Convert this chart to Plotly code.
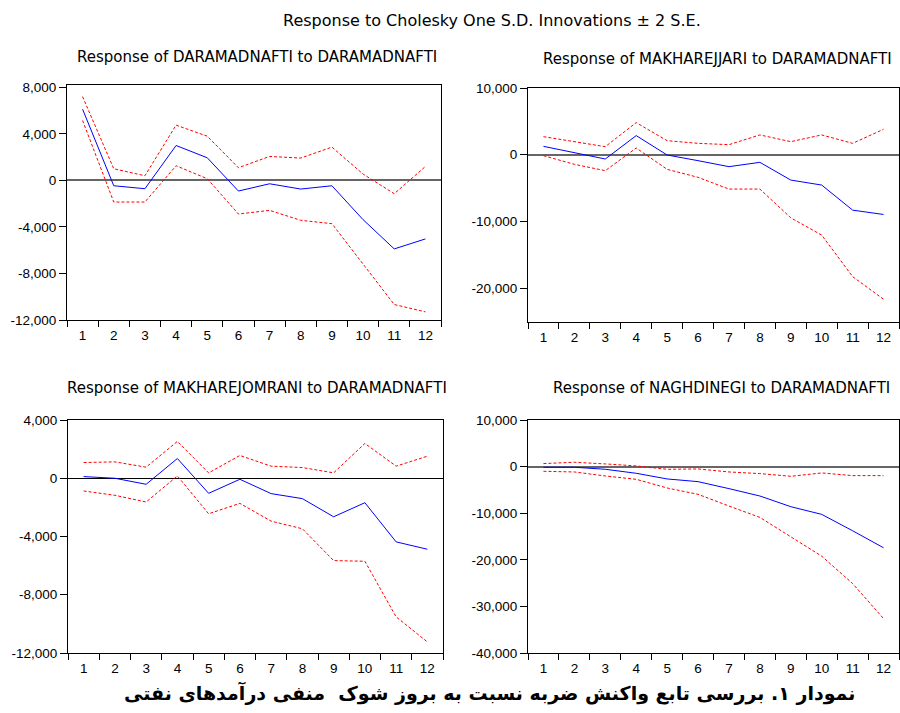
import plotly.graph_objects as go

periods = list(range(1, 13))

# Panel 1: DARAMADNAFTI -> DARAMADNAFTI
p1_resp = [6120, -460, -715, 3000, 1945, -915, -290, -745, -460, -3375, -5890, -5030]
p1_upper = [7200, 1000, 400, 4750, 3800, 1090, 2060, 1920, 2860, 545, -1145, 1200]
p1_lower = [5150, -1860, -1860, 1260, 145, -2890, -2575, -3430, -3720, -7240, -10670, -11300]

# Panel 2: MAKHAREJJARI -> DARAMADNAFTI
p2_resp = [1250, 300, -650, 2860, -50, -900, -1800, -1150, -3810, -4560, -8320, -8970]
p2_upper = [2700, 1950, 1200, 4810, 2100, 1700, 1500, 2960, 1950, 2960, 1700, 3810]
p2_lower = [-150, -1450, -2400, 1000, -2200, -3400, -5160, -5160, -9470, -12070, -18290, -21690]

# Panel 3: MAKHAREJOMRANI -> DARAMADNAFTI
p3_resp = [115, 0, -415, 1355, -1035, -70, -1055, -1400, -2645, -1680, -4370, -4875]
p3_upper = [1080, 1125, 760, 2530, 370, 1565, 830, 735, 370, 2390, 830, 1515]
p3_lower = [-875, -1170, -1630, 160, -2440, -1725, -2945, -3470, -5655, -5700, -9520, -11240]

# Panel 4: NAGHDINEGI -> DARAMADNAFTI
p4_resp = [-145, -145, -575, -1435, -2650, -3230, -4730, -6310, -8600, -10250, -13770, -17420]
p4_upper = [645, 930, 575, 145, -575, -500, -1150, -1505, -2080, -1360, -1935, -1935]
p4_lower = [-1005, -1150, -2010, -2725, -4590, -5950, -8460, -10900, -15060, -19220, -25100, -32620]

p1_ticks = [8000, 4000, 0, -4000, -8000, -12000]
p2_ticks = [10000, 0, -10000, -20000]
p3_ticks = [4000, 0, -4000, -8000, -12000]
p4_ticks = [10000, 0, -10000, -20000, -30000, -40000]

main_title = "Response to Cholesky One S.D. Innovations \u00b1 2 S.E."
panel_titles = [
    "Response of DARAMADNAFTI to DARAMADNAFTI",
    "Response of MAKHAREJJARI to DARAMADNAFTI",
    "Response of MAKHAREJOMRANI to DARAMADNAFTI",
    "Response of NAGHDINEGI to DARAMADNAFTI",
]
caption = "نمودار ۱. بررسی تابع واکنش ضربه نسبت به بروز شوک  منفی درآمدهای نفتی"

W, H = 900, 713

def px_x(x):
    return x / W

def px_y(y):
    return 1 - y / H

panels = [
    dict(resp=p1_resp, up=p1_upper, lo=p1_lower, ticks=p1_ticks, rng=[-12000, 8200],
         box=(67, 441, 85, 320), zc="#666666", zw=2),
    dict(resp=p2_resp, up=p2_upper, lo=p2_lower, ticks=p2_ticks, rng=[-25100, 10000],
         box=(528, 899, 88, 322), zc="#666666", zw=2),
    dict(resp=p3_resp, up=p3_upper, lo=p3_lower, ticks=p3_ticks, rng=[-12000, 4000],
         box=(68, 443, 420, 653), zc="#000000", zw=1.2),
    dict(resp=p4_resp, up=p4_upper, lo=p4_lower, ticks=p4_ticks, rng=[-40000, 10000],
         box=(528, 899, 420, 653), zc="#666666", zw=2),
]

fig = go.Figure()
tick_font = dict(family="Liberation Sans, Arial, sans-serif", size=13.5, color="#000000")
title_family = "DejaVu Sans, sans-serif"

for i, p in enumerate(panels):
    n = i + 1
    xa = "x" if n == 1 else f"x{n}"
    ya = "y" if n == 1 else f"y{n}"
    for vals, color, dash in [(p["up"], "#FF0000", "3px,2px"), (p["lo"], "#FF0000", "3px,2px"),
                              (p["resp"], "#0000FF", "solid")]:
        fig.add_trace(go.Scatter(x=periods, y=vals, mode="lines", xaxis=xa, yaxis=ya,
                                 line=dict(color=color, width=1, dash=dash),
                                 showlegend=False, hoverinfo="skip"))
    l, r, t, b = p["box"]
    xkey = "xaxis" if n == 1 else f"xaxis{n}"
    ykey = "yaxis" if n == 1 else f"yaxis{n}"
    fig.layout[xkey] = dict(
        domain=[px_x(l), px_x(r)], anchor=ya, range=[0.5, 12.5], automargin=False,
        tickvals=periods, ticktext=[str(v) for v in periods],
        ticks="outside", ticklen=3, tickcolor="rgba(0,0,0,0)",
        minor=dict(tick0=0.5, dtick=1, ticks="outside", ticklen=6, tickcolor="#000000", showgrid=False),
        showline=True, linecolor="#000000", linewidth=1, mirror=True,
        showgrid=False, zeroline=False, tickfont=tick_font, fixedrange=True,
    )
    fig.layout[ykey] = dict(
        domain=[px_y(b), px_y(t)], anchor=xa, range=p["rng"], automargin=False,
        tickvals=p["ticks"], ticktext=[f"{v:,}" for v in p["ticks"]],
        ticks="outside", ticklen=7, tickcolor="#000000",
        showline=True, linecolor="#000000", linewidth=1, mirror=True,
        showgrid=False, zeroline=True, zerolinecolor=p["zc"], zerolinewidth=p["zw"],
        tickfont=tick_font, fixedrange=True,
    )

annots = [
    dict(text=main_title, x=px_x(492), y=px_y(20), size=16),
    dict(text=panel_titles[0], x=px_x(257), y=px_y(57), size=15),
    dict(text=panel_titles[1], x=px_x(717), y=px_y(59), size=15),
    dict(text=panel_titles[2], x=px_x(257), y=px_y(388), size=15),
    dict(text=panel_titles[3], x=px_x(721), y=px_y(388), size=15),
]
for a in annots:
    fig.add_annotation(text=a["text"], x=a["x"], y=a["y"], xref="paper", yref="paper",
                       xanchor="center", yanchor="middle", showarrow=False,
                       font=dict(family=title_family, size=a["size"], color="#000000"))

fig.add_annotation(text="<b>" + caption + "</b>", x=px_x(490), y=px_y(693), xref="paper", yref="paper",
                   xanchor="center", yanchor="middle", showarrow=False,
                   font=dict(family="DejaVu Sans, sans-serif", size=19, color="#000000"))

fig.update_layout(width=W, height=H, margin=dict(l=0, r=0, t=0, b=0, autoexpand=False),
                  paper_bgcolor="#FFFFFF", plot_bgcolor="#FFFFFF", showlegend=False)

fig.write_html("out.html", config={"displayModeBar": False},
               post_script="document.body.style.margin='0px';document.body.style.overflow='hidden';")
